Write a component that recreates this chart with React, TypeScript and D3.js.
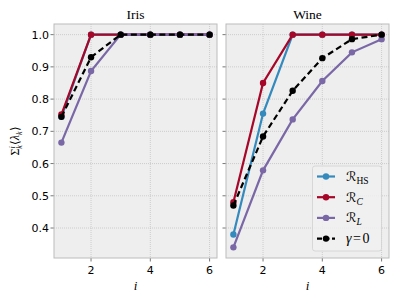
import { useRef, useEffect } from "react";
import * as d3 from "d3";

const steps = [1, 2, 3, 4, 5, 6];
const yTicks = [0.4, 0.5, 0.6, 0.7, 0.8, 0.9, 1.0];
const xTicks = [2, 4, 6];
const panelTitles = ["Iris", "Wine"];

// cumulative eigenvalue share per method
const irisHS = [0.745, 1.0, 1.0, 1.0, 1.0, 1.0];
const irisC = [0.752, 1.0, 1.0, 1.0, 1.0, 1.0];
const irisL = [0.665, 0.887, 1.0, 1.0, 1.0, 1.0];
const irisG = [0.745, 0.93, 1.0, 1.0, 1.0, 1.0];

const wineHS = [0.38, 0.755, 1.0, 1.0, 1.0, 1.0];
const wineC = [0.48, 0.85, 1.0, 1.0, 1.0, 1.0];
const wineL = [0.34, 0.579, 0.737, 0.856, 0.945, 0.986];
const wineG = [0.47, 0.684, 0.826, 0.927, 0.986, 1.0];

const colors = { HS: "#348ABD", C: "#A60628", L: "#7A68A6", G: "#000000" };

const panels = [
  { title: panelTitles[0], left: 54, series: [["HS", irisHS], ["C", irisC], ["L", irisL], ["G", irisG]] },
  { title: panelTitles[1], left: 226, series: [["HS", wineHS], ["C", wineC], ["L", wineL], ["G", wineG]] },
];

const W = 399, H = 299;
const pw = 163, top = 24, bottom = 258;
const serif = "Liberation Serif";

export default function App() {
  const ref = useRef<SVGSVGElement>(null);

  useEffect(() => {
    const svg = d3.select(ref.current);
    svg.selectAll("*").remove();
    const y = d3.scaleLinear([0.307, 1.033], [bottom, top]);

    panels.forEach((p, pi) => {
      const x = d3.scaleLinear([0.75, 6.25], [p.left, p.left + pw]);
      const g = svg.append("g");
      g.append("rect")
        .attr("x", p.left).attr("y", top)
        .attr("width", pw).attr("height", bottom - top)
        .attr("fill", "#eeeeee");
      // grid
      g.selectAll(".gy").data(yTicks).enter().append("line")
        .attr("x1", p.left).attr("x2", p.left + pw)
        .attr("y1", d => y(d)).attr("y2", d => y(d))
        .attr("stroke", "#c4c4c4").attr("stroke-width", 0.8).attr("stroke-dasharray", "1,1");
      g.selectAll(".gx").data(xTicks).enter().append("line")
        .attr("y1", top).attr("y2", bottom)
        .attr("x1", d => x(d)).attr("x2", d => x(d))
        .attr("stroke", "#c4c4c4").attr("stroke-width", 0.8).attr("stroke-dasharray", "1,1");
      // ticks
      g.selectAll(".ty").data(yTicks).enter().append("line")
        .attr("x1", p.left - 3.5).attr("x2", p.left)
        .attr("y1", d => y(d)).attr("y2", d => y(d))
        .attr("stroke", "#555").attr("stroke-width", 0.8);
      g.selectAll(".tx").data(xTicks).enter().append("line")
        .attr("y1", bottom).attr("y2", bottom + 3.5)
        .attr("x1", d => x(d)).attr("x2", d => x(d))
        .attr("stroke", "#555").attr("stroke-width", 0.8);
      if (pi === 0) {
        g.selectAll(".ly").data(yTicks).enter().append("text")
          .attr("x", p.left - 5).attr("y", d => y(d))
          .attr("dy", "0.36em").attr("text-anchor", "end")
          .attr("font-family", "DejaVu Sans").attr("font-size", 11)
          .text(d => d.toFixed(1));
      }
      g.selectAll(".lx").data(xTicks).enter().append("text")
        .attr("x", d => x(d)).attr("y", bottom + 16)
        .attr("text-anchor", "middle")
        .attr("font-family", "DejaVu Sans").attr("font-size", 11)
        .text(d => d);
      g.append("text")
        .attr("x", p.left + pw / 2).attr("y", bottom + 32)
        .attr("text-anchor", "middle")
        .attr("font-family", serif).attr("font-style", "italic").attr("font-size", 13)
        .text("i");
      g.append("text")
        .attr("x", p.left + pw / 2).attr("y", 19)
        .attr("text-anchor", "middle")
        .attr("font-family", serif).attr("font-size", 13.5)
        .text(p.title);
      g.append("rect")
        .attr("x", p.left).attr("y", top)
        .attr("width", pw).attr("height", bottom - top)
        .attr("fill", "none").attr("stroke", "#bcbcbc").attr("stroke-width", 1);

      const line = d3.line<number>().x((_, i) => x(steps[i])).y(d => y(d));
      p.series.forEach(([key, vals]) => {
        const k = key as string;
        const v = vals as number[];
        g.append("path")
          .attr("d", line(v))
          .attr("fill", "none")
          .attr("stroke", colors[k as keyof typeof colors])
          .attr("stroke-width", 2.2)
          .attr("stroke-dasharray", k === "G" ? "6,3.5" : null);
        g.selectAll(".m" + k).data(v).enter().append("circle")
          .attr("cx", (_, i) => x(steps[i])).attr("cy", d => y(d))
          .attr("r", 3.2)
          .attr("fill", colors[k as keyof typeof colors]);
      });
    });

    // legend
    const lg = svg.append("g");
    lg.append("rect")
      .attr("x", 312.5).attr("y", 166).attr("width", 69).attr("height", 85)
      .attr("rx", 2.5)
      .attr("fill", "#f0f0f0").attr("fill-opacity", 0.85)
      .attr("stroke", "#d0d0d0").attr("stroke-width", 0.8);
    const entries = [
      { k: "HS", main: "ℛ", sub: "HS", subItalic: false },
      { k: "C", main: "ℛ", sub: "C", subItalic: true },
      { k: "L", main: "ℛ", sub: "L", subItalic: true },
      { k: "G", main: "γ", sub: "", subItalic: false },
    ];
    entries.forEach((e, i) => {
      const yy = 176.5 + i * 20.7;
      const c = colors[e.k as keyof typeof colors];
      lg.append("line")
        .attr("x1", 317).attr("x2", 335).attr("y1", yy).attr("y2", yy)
        .attr("stroke", c).attr("stroke-width", 2.2)
        .attr("stroke-dasharray", e.k === "G" ? "5,2.5" : null);
      lg.append("circle").attr("cx", 326).attr("cy", yy).attr("r", 3.2).attr("fill", c);
      const t = lg.append("text")
        .attr("x", 346).attr("y", yy + 4.5)
        .attr("font-family", serif).attr("font-size", 14);
      if (e.k === "G") {
        t.append("tspan").attr("font-style", "italic").text("γ");
        t.append("tspan").attr("dx", 1.5).text("=");
        t.append("tspan").attr("dx", 1.5).text("0");
      } else {
        t.append("tspan").attr("font-family", "DejaVu Sans").attr("font-size", 13).text(e.main);
        t.append("tspan").attr("dy", 3).attr("font-size", 9.5)
          .attr("font-style", e.subItalic ? "italic" : "normal").text(e.sub);
      }
    });

    // y label
    const yl = svg.append("text")
      .attr("transform", "translate(19,141) rotate(-90)")
      .attr("text-anchor", "middle")
      .attr("font-family", serif).attr("font-size", 12);
    yl.append("tspan").text("Σ");
    yl.append("tspan").attr("dy", -4).attr("font-size", 8).attr("font-style", "italic").text("i");
    yl.append("tspan").attr("dx", -2.5).attr("dy", 7).attr("font-size", 8).attr("font-style", "italic").text("k");
    yl.append("tspan").attr("dy", -3).text("⟨");
    yl.append("tspan").attr("font-style", "italic").text("λ");
    yl.append("tspan").attr("dy", 3).attr("font-size", 8).attr("font-style", "italic").text("k");
    yl.append("tspan").attr("dy", -3).text("⟩");
  }, []);

  return (
    <svg ref={ref} width={W} height={H} style={{ position: "absolute", left: 0, top: 0, background: "#fff" }} />
  );
}
